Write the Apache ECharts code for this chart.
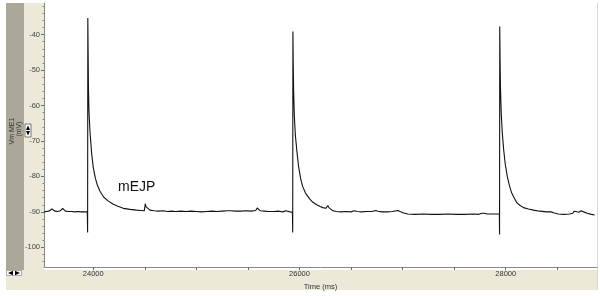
<!DOCTYPE html>
<html>
<head>
<meta charset="utf-8">
<script src="https://cdn.jsdelivr.net/npm/echarts@6/dist/echarts.min.js"></script>
<style>
  html, body { margin: 0; padding: 0; background: #ffffff; }
  #chart { width: 600px; height: 296px; }
</style>
</head>
<body>
<div id="chart"></div>
<script>
// ---- Data ----
const timeMs = [
  23522, 23545, 23570, 23588, 23597, 23606, 23630, 23655, 23680, 23695, 23703, 23712, 23730, 23760, 23790,
  23820, 23850, 23880, 23910, 23942,
  23945, 23947, 23950, 23953, 23958, 23968, 23984, 24000, 24020, 24040, 24065, 24100, 24143, 24190, 24227,
  24290, 24356, 24420, 24460, 24494, 24500, 24504, 24512, 24525, 24550, 24590, 24630, 24680, 24720, 24760,
  24800, 24850, 24900, 24950, 25000, 25050, 25100, 25150, 25200, 25250, 25300, 25316, 25330, 25380, 25430,
  25480, 25530, 25575, 25583, 25590, 25600, 25620, 25660, 25700, 25750, 25800, 25840, 25864, 25880, 25910,
  25931,
  25934, 25936, 25939, 25943, 25950, 25960, 25975, 25990, 26010, 26030, 26058, 26100, 26130, 26162, 26200,
  26226, 26255, 26265, 26275, 26285, 26300, 26323, 26360, 26400, 26450, 26500, 26530, 26540, 26560, 26600,
  26650, 26700, 26740, 26760, 26800, 26850, 26900, 26953, 26975, 27010, 27050, 27120, 27200, 27280, 27360,
  27440, 27520, 27600, 27680, 27740, 27768, 27777, 27790, 27820, 27870, 27910, 27938,
  27940, 27942, 27945, 27949, 27956, 27966, 27980, 27995, 28015, 28035, 28058, 28085, 28107, 28140, 28172,
  28220, 28269, 28330, 28400, 28440, 28450, 28457, 28470, 28510, 28560, 28620, 28650, 28665, 28680, 28710,
  28730, 28737, 28755, 28790, 28830, 28862
];
const vmMv = [
  -90.0, -89.9, -89.8, -89.6, -89.2, -89.6, -89.8, -89.9, -89.7, -89.3, -89.0, -89.5, -89.8, -89.9, -89.9,
  -90.0, -89.9, -90.0, -90.0, -90.0,
  -95.8, -35.3, -45.0, -55.0, -61.5, -67.4, -73.5, -77.5, -80.5, -82.5, -84.2, -85.8, -86.9, -87.8, -88.3,
  -89.0, -89.3, -89.5, -89.6, -89.7, -88.6, -87.7, -88.6, -89.1, -89.5, -89.7, -89.8, -89.7, -89.9, -89.8,
  -89.9, -89.8, -89.9, -89.8, -89.9, -90.0, -89.9, -89.8, -89.9, -89.8, -89.7, -89.5, -89.7, -89.8, -89.8,
  -89.7, -89.8, -89.6, -89.1, -88.9, -89.3, -89.7, -89.8, -89.9, -89.9, -89.8, -90.0, -89.7, -90.0, -90.0,
  -90.1,
  -95.8, -39.1, -48.0, -56.0, -63.0, -68.5, -73.0, -77.0, -80.5, -82.8, -84.7, -86.4, -87.3, -87.9, -88.5,
  -88.8, -89.0, -88.6, -88.2, -88.8, -89.3, -89.7, -89.9, -90.0, -89.9, -90.0, -89.7, -89.6, -89.9, -90.0,
  -89.9, -89.9, -89.6, -89.8, -90.0, -90.0, -89.9, -89.6, -89.9, -90.3, -90.6, -90.7, -90.6, -90.7, -90.7,
  -90.6, -90.7, -90.7, -90.6, -90.7, -90.4, -90.1, -90.4, -90.6, -90.6, -90.6, -90.6,
  -96.4, -37.7, -47.0, -55.0, -62.0, -67.5, -72.5, -76.5, -80.0, -82.5, -84.7, -86.2, -87.4, -88.2, -88.8,
  -89.2, -89.5, -89.8, -90.0, -90.0, -89.8, -89.7, -90.3, -90.6, -90.7, -90.6, -90.4, -89.8, -90.0, -90.1,
  -89.7, -89.6, -90.0, -90.4, -90.7, -90.9
];
const xTickValues = [24000, 24500, 25000, 25500, 26000, 26500, 27000, 27500, 28000, 28500];
const xLabelValues = [24000, 26000, 28000];
const yLabelValues = [-100, -90, -80, -70, -60, -50, -40];
const yMinorTickValues = [-104, -102, -98, -96, -94, -92, -88, -86, -84, -82, -78, -76, -74, -72, -68, -66,
  -64, -62, -58, -56, -54, -52, -48, -46, -44, -42, -38, -36, -34, -32];
const annotationText = 'mEJP';
const yAxisName = ['Vm ME1', '(mV)'];
const xAxisName = 'Time (ms)';

// ---- Chart ----
const FONT = 'Liberation Sans, Arial, sans-serif';
const seriesData = timeMs.map((t, i) => [t, vmMv[i]]);
const chart = echarts.init(document.getElementById('chart'), null, { renderer: 'canvas' });

const yMin = -105.58, yMax = -31.07;

chart.setOption({
  animation: false,
  backgroundColor: '#ffffff',
  grid: { left: 44, right: 3, top: 3, bottom: 26, containLabel: false },
  xAxis: {
    type: 'value',
    min: 23522,
    max: 28885,
    name: xAxisName,
    nameLocation: 'middle',
    nameGap: 10,
    nameTextStyle: { fontSize: 7.5, color: '#333', fontFamily: FONT },
    axisLine: { show: true, lineStyle: { color: '#8a8a8a', width: 1 } },
    axisTick: { show: true, customValues: xTickValues, length: 3, lineStyle: { color: '#6a6a6a' } },
    axisLabel: { show: true, customValues: xLabelValues, fontSize: 7.5, color: '#333', fontFamily: FONT, margin: 3,
      formatter: v => String(v) },
    splitLine: { show: false }
  },
  yAxis: [
    {
      type: 'value',
      min: yMin,
      max: yMax,
      axisLine: { show: true, lineStyle: { color: '#8a8a8a', width: 1 } },
      axisTick: { show: true, customValues: yLabelValues, length: 3, lineStyle: { color: '#6a6a6a' } },
      axisLabel: { show: true, customValues: yLabelValues, fontSize: 7.5, color: '#444', fontFamily: FONT, margin: 4 },
      splitLine: { show: false }
    },
    {
      type: 'value',
      min: yMin,
      max: yMax,
      position: 'left',
      axisLine: { show: false },
      axisTick: { show: true, customValues: yMinorTickValues, length: 1.5, lineStyle: { color: '#8a8a8a' } },
      axisLabel: { show: false },
      splitLine: { show: false }
    }
  ],
  series: [{
    type: 'line',
    yAxisIndex: 0,
    data: seriesData,
    showSymbol: false,
    symbol: 'none',
    lineStyle: { color: '#111111', width: 1.1 },
    z: 5
  }],
  graphic: [
    { type: 'rect', z: -10, shape: { x: 6, y: 3, width: 18, height: 267 }, style: { fill: '#ACA899' } },
    { type: 'rect', z: -10, shape: { x: 24, y: 3, width: 20, height: 267 }, style: { fill: '#ECE9D8' } },
    { type: 'rect', z: -10, shape: { x: 6, y: 270, width: 591, height: 20 }, style: { fill: '#ECE9D8' } },
    { type: 'line', z: -5, shape: { x1: 597.5, y1: 3, x2: 597.5, y2: 290 }, style: { stroke: '#d8d8d8', lineWidth: 1 } },
    // rotated axis name inside the dark panel
    { type: 'text', z: 50, x: 12, y: 131, rotation: Math.PI / 2,
      style: { text: yAxisName[0], fontSize: 7, fill: '#333', fontFamily: FONT, align: 'center', verticalAlign: 'middle' } },
    { type: 'text', z: 50, x: 19, y: 129, rotation: Math.PI / 2,
      style: { text: yAxisName[1], fontSize: 7, fill: '#333', fontFamily: FONT, align: 'center', verticalAlign: 'middle' } },
    // up/down scaling icon
    { type: 'rect', z: 50, shape: { x: 25, y: 124, width: 6, height: 13 }, style: { fill: '#ffffff', stroke: '#555', lineWidth: 0.8 } },
    { type: 'polygon', z: 51, shape: { points: [[26, 130], [30, 130], [28, 125.5]] }, style: { fill: '#000' } },
    { type: 'polygon', z: 51, shape: { points: [[26, 131], [30, 131], [28, 135.5]] }, style: { fill: '#000' } },
    // left/right scroll icon
    { type: 'rect', z: 50, shape: { x: 6.5, y: 270.5, width: 15, height: 5 }, style: { fill: '#ffffff', stroke: '#777', lineWidth: 0.6 } },
    { type: 'polygon', z: 51, shape: { points: [[8, 273], [13, 270.8], [13, 275.2]] }, style: { fill: '#000' } },
    { type: 'polygon', z: 51, shape: { points: [[20, 273], [15, 270.8], [15, 275.2]] }, style: { fill: '#000' } },
    // annotation
    { type: 'text', z: 60, left: 118, top: 180,
      style: { text: annotationText, fontSize: 14, fill: '#111', fontFamily: FONT } }
  ]
});
</script>
</body>
</html>
